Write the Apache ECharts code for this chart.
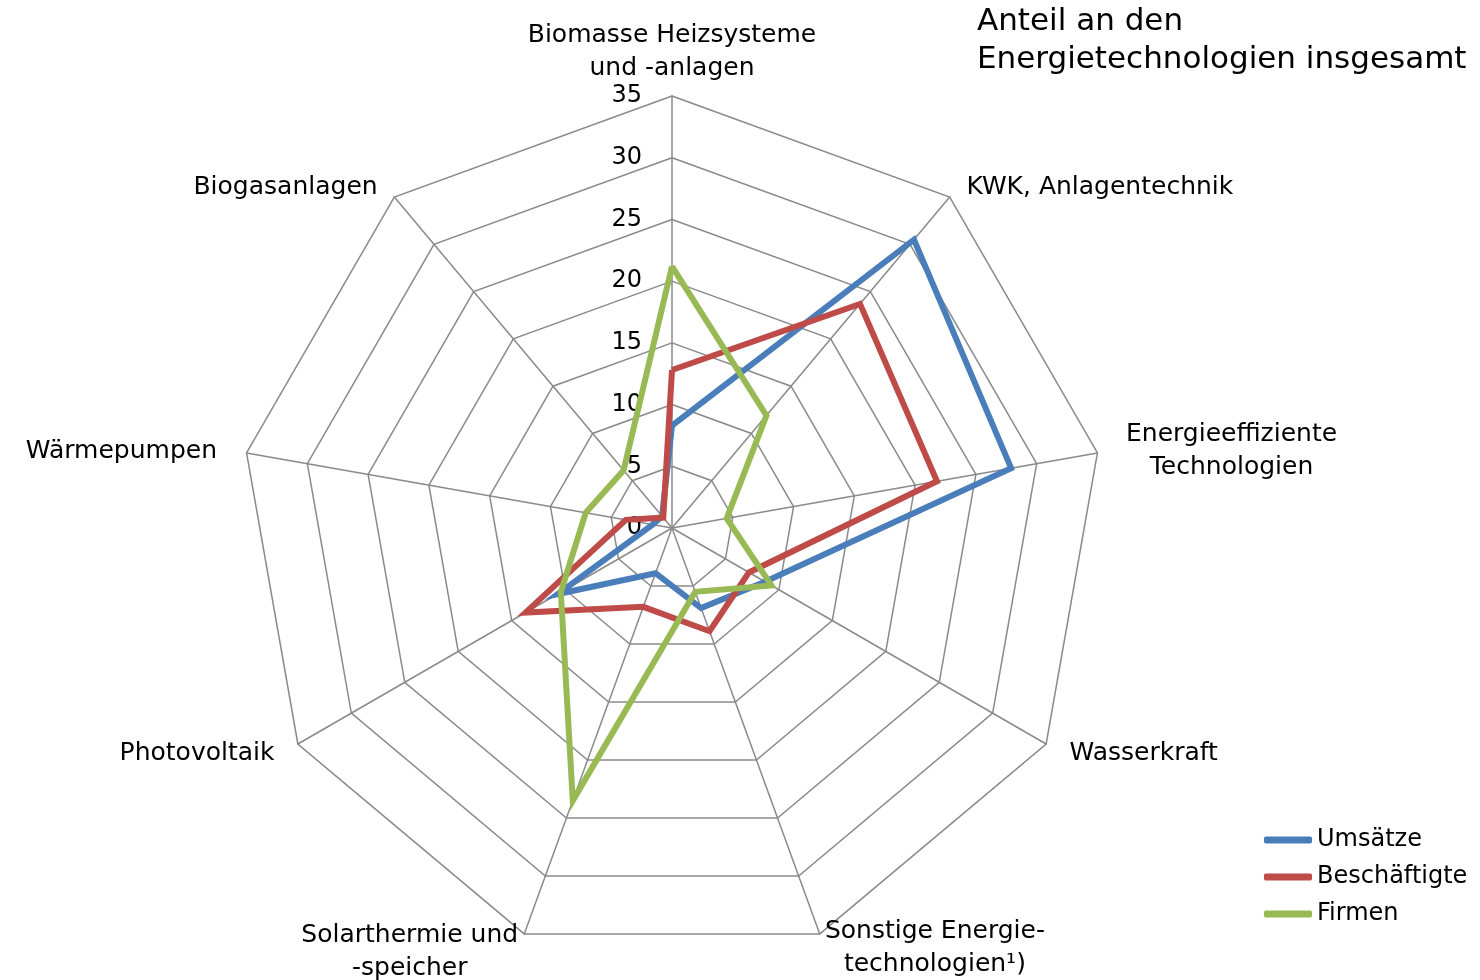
<!DOCTYPE html>
<html>
<head>
<meta charset="utf-8">
<script src="https://cdn.jsdelivr.net/npm/echarts@6/dist/echarts.min.js"></script>
<style>
  html, body { margin: 0; padding: 0; background: #fff; }
  #chart { width: 1480px; height: 980px; }
</style>
</head>
<body>
<div id="chart"></div>
<script>
// indicators, clockwise from the top (as in the original)
const categories = [
  'Biomasse Heizsysteme\nund -anlagen',
  'KWK, Anlagentechnik',
  'Energieeffiziente\nTechnologien',
  'Wasserkraft',
  'Sonstige Energie-\ntechnologien¹)',
  'Solarthermie und\n-speicher',
  'Photovoltaik',
  'Wärmepumpen',
  'Biogasanlagen'
];
const seriesNames = ['Umsätze', 'Beschäftigte', 'Firmen'];
const umsaetze      = [8.3, 30.5, 27.9, 8.7, 6.9, 3.9, 10.7, 1.6, 1.25];
const beschaeftigte = [12.8, 23.7, 21.8, 7.2, 8.9, 6.8, 13.7, 3.8, 1.1];
const firmen        = [21.2, 11.9, 4.5, 9.3, 5.5, 23.5, 10.4, 7.1, 6.1];
const axisMax = 35;

const colors = ['#4a7ebb', '#be4b48', '#98b954'];
const FONT = 'DejaVu Sans';

// echarts lays radar indicators out counter-clockwise -> flip everything after the first
const flip = arr => [arr[0]].concat(arr.slice(1).reverse());

// distance of each name from its spoke end, plus a small vertical nudge (same order as categories)
const nameGaps = [11, 26, 29, 27, 15, 18, 27, 30, 26];
const nameShift = [0, 20, 6, -8, 0, 2, -8, 8, 20];

const indicators = flip(categories.map((name, i) => {
  const ind = { name: name, min: 0, max: axisMax, nameGap: nameGaps[i] };
  if (nameShift[i] > 0) ind.nameTextStyle = { padding: [nameShift[i], 0, 0, 0] };
  if (nameShift[i] < 0) ind.nameTextStyle = { padding: [0, 0, -nameShift[i], 0] };
  if (i === 0) ind.axisLabel = { show: true };
  return ind;
}));

const chart = echarts.init(document.getElementById('chart'), null, { renderer: 'canvas' });

chart.setOption({
  animation: false,
  backgroundColor: '#fff',
  textStyle: { fontFamily: FONT },
  title: {
    text: 'Anteil an den\nEnergietechnologien insgesamt',
    left: 977,
    top: 3,
    padding: 0,
    textStyle: { fontFamily: FONT, fontSize: 31, fontWeight: 'normal', color: '#000', lineHeight: 38 }
  },
  legend: {
    orient: 'vertical',
    left: 1264,
    top: 825,
    padding: 0,
    itemWidth: 48,
    itemHeight: 7,
    itemGap: 7,
    icon: 'roundRect',
    data: seriesNames,
    textStyle: { fontFamily: FONT, fontSize: 24, color: '#000', lineHeight: 30 }
  },
  radar: {
    center: [672, 528],
    radius: 432,
    startAngle: 90,
    splitNumber: 7,
    shape: 'polygon',
    indicator: indicators,
    axisName: {
      color: '#000',
      fontFamily: FONT,
      fontSize: 25,
      formatter: name => name.split('\n').map(l => '{c|' + l + '}').join('\n'),
      rich: { c: { align: 'center', fontFamily: FONT, fontSize: 25, lineHeight: 33, color: '#000' } }
    },
    splitLine: { lineStyle: { color: '#8a8a8a', width: 1.5 } },
    splitArea: { show: false },
    axisLine: { lineStyle: { color: '#8a8a8a', width: 1.5 } },
    axisTick: { show: false },
    axisLabel: { show: false, color: '#000', fontFamily: FONT, fontSize: 24, margin: 30 }
  },
  series: [{
    type: 'radar',
    symbol: 'none',
    data: [umsaetze, beschaeftigte, firmen].map((vals, i) => ({
      name: seriesNames[i],
      value: flip(vals),
      itemStyle: { color: colors[i] },
      lineStyle: { color: colors[i], width: 6, join: 'miter' }
    }))
  }]
});
</script>
</body>
</html>
